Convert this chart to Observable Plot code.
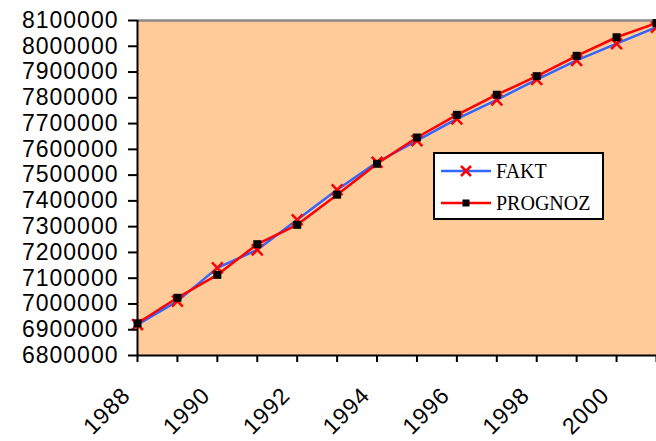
<!DOCTYPE html>
<html>
<head>
<meta charset="utf-8">
<script src="https://cdn.jsdelivr.net/npm/d3@7"></script>
<script src="https://cdn.jsdelivr.net/npm/@observablehq/plot@0.6"></script>
<style>
  html, body { margin: 0; padding: 0; background: #fff; }
  #wrap { position: relative; width: 656px; height: 441px; }
  #chart svg text { letter-spacing: 1px; }
  #legend {
    position: absolute; left: 433px; top: 152px; width: 167px; height: 64px;
    border: 2px solid #000; background: #fff;
    font-family: "Liberation Serif", "Times New Roman", serif; font-size: 20px; color: #000;
  }
  .row { position: absolute; left: 6px; height: 24px; display: flex; align-items: center; }
  .row svg { margin-right: 5px; }
</style>
</head>
<body>
<div id="wrap">
  <div id="chart"></div>
  <div id="legend">
    <div class="row" style="top:5px">
      <svg width="50" height="14"><line x1="0" y1="7" x2="50" y2="7" stroke="#3366FF" stroke-width="2.5"/><path d="M20,2 L30,12 M30,2 L20,12" stroke="#FF0000" stroke-width="2.5"/></svg>FAKT
    </div>
    <div class="row" style="top:37px">
      <svg width="50" height="14"><line x1="0" y1="7" x2="50" y2="7" stroke="#FF0000" stroke-width="2.5"/><rect x="21.5" y="3.5" width="7" height="7" fill="#000"/></svg>PROGNOZ
    </div>
  </div>
</div>
<script>
const years = [1988, 1989, 1990, 1991, 1992, 1993, 1994, 1995, 1996, 1997, 1998, 1999, 2000, 2001];
const fakt = [6920000, 7011000, 7140000, 7210000, 7327000, 7443000, 7550000, 7634000, 7718000, 7792000, 7871000, 7945000, 8010000, 8074000];
const prognoz = [6925000, 7024000, 7113000, 7232000, 7307000, 7424000, 7544000, 7646000, 7734000, 7812000, 7884000, 7963000, 8035000, 8090000];
const yTicks = [6800000, 6900000, 7000000, 7100000, 7200000, 7300000, 7400000, 7500000, 7600000, 7700000, 7800000, 7900000, 8000000, 8100000];
const xTicks = years;
const xLabelTicks = [1988, 1990, 1992, 1994, 1996, 1998, 2000];

const faktData = years.map((y, i) => ({year: y, value: fakt[i]}));
const progData = years.map((y, i) => ({year: y, value: prognoz[i]}));
const yMin = yTicks[0], yMax = yTicks[yTicks.length - 1];

const chart = Plot.plot({
  width: 656,
  height: 441,
  marginLeft: 137,
  marginRight: 0,
  marginTop: 20,
  marginBottom: 86,
  style: {fontFamily: "'Liberation Sans', Arial, sans-serif", fontSize: "23px", color: "#000", background: "#fff", overflow: "visible"},
  x: {type: "linear", domain: [years[0], years[years.length - 1]]},
  y: {domain: [yMin, yMax]},
  marks: [
    Plot.frame({fill: "#FFCC99", stroke: null}),
    Plot.ruleY([yMax], {stroke: "#888888", strokeWidth: 2.5}),
    Plot.line(faktData, {x: "year", y: "value", stroke: "#3366FF", strokeWidth: 2.5}),
    Plot.dot(faktData, {x: "year", y: "value", symbol: "times", stroke: "#FF0000", strokeWidth: 2.5, r: 5}),
    Plot.line(progData, {x: "year", y: "value", stroke: "#FF0000", strokeWidth: 2.5}),
    Plot.dot(progData, {x: "year", y: "value", symbol: "square", fill: "#000000", stroke: null, r: 4.5}),
    Plot.axisY({ticks: yTicks, tickFormat: d3.format("d"), tickSize: 9, tickPadding: 10, strokeWidth: 2, label: null}),
    Plot.axisX({ticks: xTicks, tickFormat: () => "", tickSize: 7, strokeWidth: 2, label: null}),
    Plot.axisX({ticks: xLabelTicks, tickFormat: d => String(d), tickRotate: -45, tickSize: 0, tickPadding: 17, label: null, dx: -11, dy: 19}),
    Plot.ruleX([years[0]], {stroke: "#000", strokeWidth: 2}),
    Plot.ruleY([yMin], {stroke: "#000", strokeWidth: 2})
  ]
});
document.getElementById("chart").appendChild(chart);
</script>
</body>
</html>
